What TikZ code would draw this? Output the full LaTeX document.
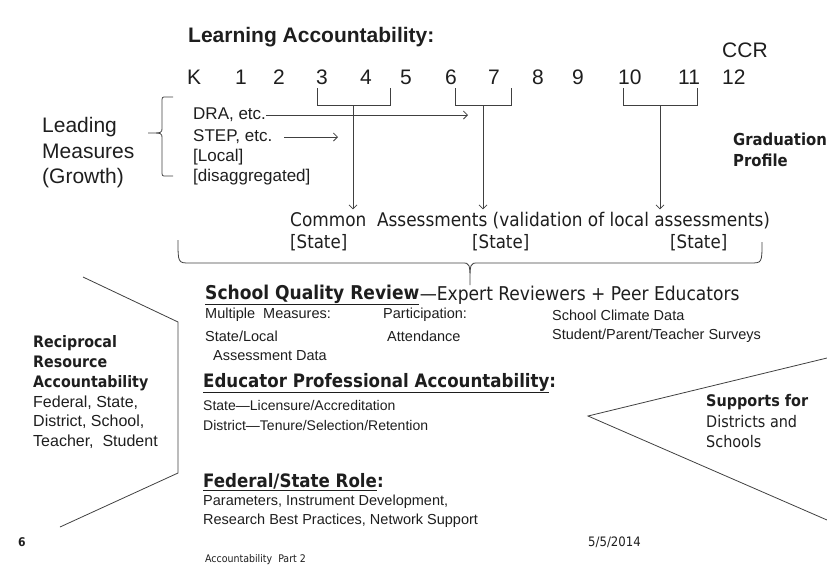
\documentclass[tikz,border=0pt]{standalone}
\usepackage{fontspec}
\setmainfont{Liberation Sans}
\newfontfamily\tah{DejaVu Sans Condensed}
\usetikzlibrary{positioning,arrows.meta}
\definecolor{ink}{HTML}{1E1E1E}
\tikzset{
  txt/.style={anchor=west,inner sep=0pt,text=ink,font=\fontsize{#1}{#1}\selectfont},
  tht/.style={anchor=west,inner sep=0pt,text=ink,font=\tah\fontsize{#1}{#1}\selectfont},
  thb/.style={anchor=west,inner sep=0pt,text=ink,align=left,font=\tah\bfseries\fontsize{#1}{1.25\dimexpr#1\relax}\selectfont},
  grade/.style={txt=21pt},
  ln/.style={draw=ink!85,line width=0.8pt},
  >={Straight Barb[length=4pt,width=8pt]}
}
\begin{document}
\begin{tikzpicture}[x=1pt,y=-1pt]
  \useasboundingbox (0,0) rectangle (827,566);
  \node[txt=21pt,font=\bfseries\fontsize{21pt}{21pt}\selectfont] (title) at (188,37) {Learning Accountability:};
  \node[grade] (ccr) at (722,50) {CCR};
  \foreach \g/\x in {K/187,1/235,2/273,3/316,4/360,5/400,6/445,7/488,8/532,9/572,10/618,11/678,12/722}
    \node[grade] (g\g) at (\x,77) {\g};
  \node[txt=21pt,align=left,font=\fontsize{21pt}{25.5pt}\selectfont] (lead) at (42,153) {Leading\\Measures\\(Growth)};
  \node[thb=16.5pt] (grad) at (733,150) {Graduation\\Profile};
  \node[txt=17pt] (dra) at (193,115) {DRA, etc.};
  \node[txt=17pt] (stp) at (193,137) {STEP, etc.};
  \node[txt=17pt] (loc) at (193,157) {[Local]};
  \node[txt=17pt] (dis) at (193,177) {[disaggregated]};
  \node[tht=18.8pt] (ca) at (290,221) {Common\ \ Assessments (validation of local assessments)};
  \node[tht=18.5pt] (st1) at (290,243) {[State]};
  \node[tht=18.5pt] (st2) at (472,243) {[State]};
  \node[tht=18.5pt] (st3) at (670,243) {[State]};
  \draw[ln] (173,97) -- (166,97) .. controls (162,97) .. (162,102) -- (162,128)
    .. controls (162,133) .. (148,133) .. controls (162,133) .. (162,138) -- (162,171)
    .. controls (162,176) .. (166,176) -- (173,176);
  \foreach \l/\r/\s/\n in {317/390/353/1,455/511/483/2,623/697/660/3} {
    \draw[ln] (\l,88) |- (\r,105) -- (\r,88);
    \coordinate (b\n) at (\s,105);
    \draw[ln,->] (b\n) -- ([yshift=3pt]b\n |- ca.north);
  }
  \coordinate (dEnd) at (468,117);
  \coordinate (sEnd) at (338,139);
  \draw[ln,->] (dra.east) -- (dra.east -| dEnd);
  \draw[ln,->] ([xshift=12pt]stp.east) -- (stp.east -| sEnd);
  \draw[ln] (178,240) .. controls (178,263) .. (190,263) -- (462,263)
    .. controls (470,263) .. (470,285) .. controls (470,263) .. (478,263)
    -- (750,263) .. controls (762,263) .. (762,242);
  \node[thb=19pt] (sqr) at (205,295) {\underline{School Quality Review}};
  \node[tht=19pt] (exp) at (sqr.east) {—Expert Reviewers + Peer Educators};
  \node[txt=14.5pt] (mm) at (205,315) {Multiple\ \ Measures:};
  \node[txt=14.5pt] (sl) at (205,336) {State/Local};
  \node[txt=14.5pt] (ad) at (213,356) {Assessment Data};
  \node[txt=14.5pt] (par) at (383,315) {Participation:};
  \node[txt=14.5pt] (att) at (387,336) {Attendance};
  \node[txt=14.5pt] (scd) at (552,315) {School Climate Data};
  \node[txt=14.5pt] (sur) at (552,336) {Student/Parent/Teacher Surveys};
  \node[thb=18.5pt] (epa) at (203,383) {\underline{Educator Professional Accountability}:};
  \node[txt=14pt] (lic) at (203,405) {State—Licensure/Accreditation};
  \node[txt=14pt] (ten) at (203,425) {District—Tenure/Selection/Retention};
  \node[thb=18.5pt] (fsr) at (203,482) {\underline{Federal/State Role}:};
  \node[txt=14.5pt] (prm) at (203,502) {Parameters, Instrument Development,};
  \node[txt=14.5pt] (rbp) at (203,521) {Research Best Practices, Network Support};
  \node[thb=15.8pt] (rra) at (33,363) {Reciprocal\\Resource\\Accountability};
  \node[txt=16pt,align=left,font=\fontsize{16pt}{19.5pt}\selectfont] (fed) at (33,422) {Federal, State,\\District, School,\\Teacher,\ \ Student};
  \node[thb=16pt] (sup) at (706,402) {Supports for};
  \node[tht=16pt,align=left,font=\tah\fontsize{16pt}{20pt}\selectfont] (dsc) at (706,432) {Districts and\\Schools};
  \draw[ln] (83,277) -- (178,322) -- (178,473) -- (60,527);
  \draw[ln] (827,358) -- (588,416) -- (827,520);
  \node[thb=12pt] (pg) at (18,542) {6};
  \node[tht=13pt] (dt) at (588,542) {5/5/2014};
  \node[tht=10.5pt] (foot) at (205,560) {Accountability\ \ Part 2};
\end{tikzpicture}
\end{document}
